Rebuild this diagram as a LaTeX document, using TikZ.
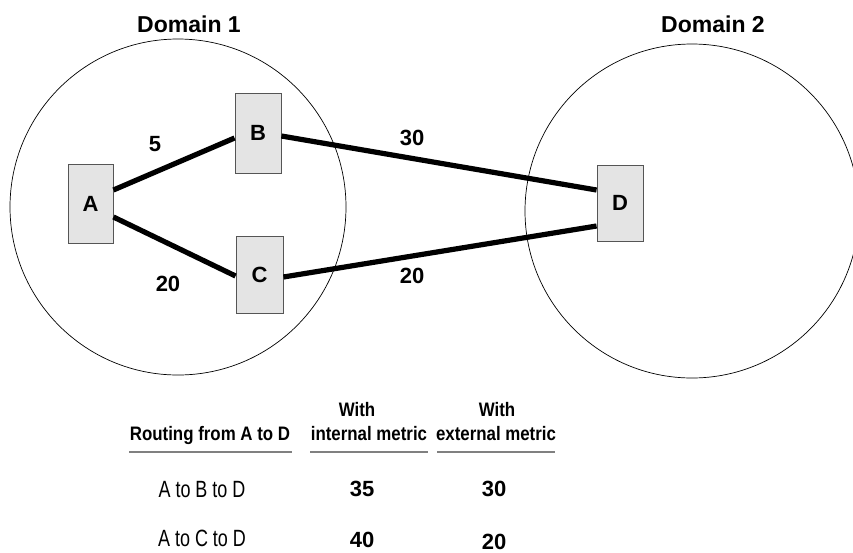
\documentclass[tikz,border=0pt]{standalone}
\usepackage{fontspec}
\setmainfont{Liberation Sans}
\usepackage{graphicx}
\definecolor{boxfill}{HTML}{E4E4E4}
\definecolor{boxline}{HTML}{555555}
\definecolor{ruleline}{HTML}{808080}
\begin{document}
\begin{tikzpicture}[x=1pt,y=-1pt,
  router/.style={draw=boxline,fill=boxfill,line width=0.9pt,minimum width=46pt,minimum height=78pt,inner sep=0pt,font=\fontsize{22}{26}\selectfont\bfseries},
  link/.style={line width=5.2pt},
  domcircle/.style={draw=black,line width=0.7pt},
  lbl/.style={font=\fontsize{22}{26}\selectfont\bfseries,inner sep=0pt},
  dlbl/.style={font=\fontsize{23}{27}\selectfont\bfseries,inner sep=0pt,anchor=base},
  head/.style={font=\fontsize{19.5}{23}\selectfont\bfseries,inner sep=0pt,anchor=base},
  rowtxt/.style={font=\fontsize{23.5}{27}\selectfont,inner sep=0pt,anchor=base},
  num/.style={font=\fontsize{22}{26}\selectfont\bfseries,inner sep=0pt,anchor=base},
  tabrule/.style={draw=ruleline,line width=2.5pt}]
\useasboundingbox (0,0) rectangle (853,552);
% domains
\draw[domcircle] (178,207) circle[radius=168];
\draw[domcircle] (692,211) circle[radius=167];
\node[dlbl] (d1) at (189,32) {Domain 1};
\node[dlbl] (d2) at (713,32) {Domain 2};
% routers
\node[router,minimum width=45pt,minimum height=79pt] (A) at (90.5,203.5) {A};
\node[router,minimum width=46pt,minimum height=80pt] (B) at (258,133) {B};
\node[router,minimum width=47pt,minimum height=77pt] (C) at (259.5,274.5) {C};
\node[router,minimum width=46pt,minimum height=76pt] (D) at (620,203) {D};
% links
\draw[link] ([yshift=13.5pt]A.east) -- ([yshift=-5pt]B.west);
\draw[link] ([yshift=-13.5pt]A.east) -- ([yshift=-1.5pt]C.west);
\draw[link] ([yshift=-3pt]B.east) -- ([yshift=13pt]D.west);
\draw[link] ([yshift=-2.5pt]C.east) -- ([yshift=-23pt]D.west);
% link labels
\node[lbl] (l5) at (155,144) {5};
\node[lbl] (l20a) at (168,284) {20};
\node[lbl] (l30) at (412,138) {30};
\node[lbl] (l20b) at (412,276) {20};
% table
\node[head] (h1) at (210,440) {\scalebox{0.865}[1]{Routing from A to D}};
\node[head] (h2a) at (357,416) {\scalebox{0.865}[1]{With}};
\node[head] (h2b) at (369,440) {\scalebox{0.865}[1]{internal metric}};
\node[head] (h3a) at (497,416) {\scalebox{0.865}[1]{With}};
\node[head] (h3b) at (496,440) {\scalebox{0.865}[1]{external metric}};
\coordinate (r1a) at (129,452); \coordinate (r1b) at (292,452);
\coordinate (r2a) at (310,452); \coordinate (r2b) at (428,452);
\coordinate (r3a) at (437,452); \coordinate (r3b) at (555,452);
\draw[tabrule] (r1a) -- (r1b);
\draw[tabrule] (r2a) -- (r2b);
\draw[tabrule] (r3a) -- (r3b);
\node[rowtxt] (t1) at (202,497) {\scalebox{0.765}[1]{A to B to D}};
\node[num] (n11) at (362,496) {35};
\node[num] (n12) at (494,496) {30};
\node[rowtxt] (t2) at (202,546) {\scalebox{0.765}[1]{A to C to D}};
\node[num] (n21) at (362,547) {40};
\node[num] (n22) at (494,549) {20};
\end{tikzpicture}
\end{document}
